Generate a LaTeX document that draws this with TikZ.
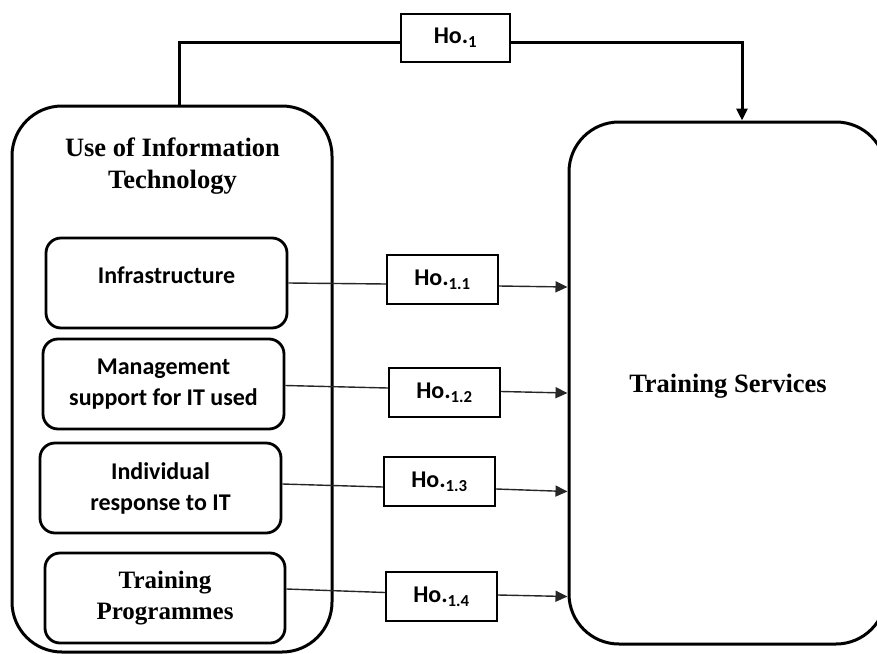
\documentclass[tikz,border=0pt]{standalone}
\usepackage{fontspec}
\newfontfamily\tnrfont{Liberation Serif}
\newfontfamily\calibfont{Carlito}
\usetikzlibrary{arrows.meta}
\tikzset{
  bigbox/.style={draw, line width=3pt, rounded corners=50pt},
  inbox/.style={draw, line width=2.8pt, rounded corners=15pt, minimum width=241pt, minimum height=90pt, align=center},
  hobox/.style={draw, line width=2.3pt, minimum width=111pt, minimum height=49pt, inner sep=0pt, font={\calibfont\bfseries\fontsize{24}{28}\selectfont}},
  sanslab/.style={align=center, inner sep=0pt, font={\calibfont\bfseries\fontsize{24}{31}\selectfont}},
  seriflab/.style={align=center, inner sep=0pt, font={\tnrfont\bfseries\fontsize{25}{31}\selectfont}},
  titlelab/.style={align=center, inner sep=0pt, font={\tnrfont\bfseries\fontsize{26.5}{32}\selectfont}},
  topline/.style={line width=3pt},
  sline/.style={line width=1.4pt, black!85},
  arr/.style={-{Triangle[length=12pt,width=11pt]}},
}
\begin{document}
\begin{tikzpicture}[x=1pt,y=-1pt]
\useasboundingbox (0,0) rectangle (877,653);
\clip (0,0) rectangle (877,653);
% big boxes
\node[bigbox, minimum width=320pt, minimum height=546pt] (L) at (172,379) {};
\node[bigbox, minimum width=317pt, minimum height=522pt] (R) at (727.5,383) {};
\node[titlelab] (RT) at (728,386) {Training Services};
\node[titlelab] (T) at (172.5,166) {Use of Information\\Technology};
% inner boxes
\node[inbox, minimum width=241pt] (I1) at (166.5,283) {};
\node[sanslab] (I1t) at (166.5,275) {Infrastructure};
\node[inbox, sanslab, inner sep=3pt, minimum width=241pt] (I2) at (163.5,384) {Management\\support for IT used};
\node[inbox, sanslab, inner sep=3pt, minimum width=241pt] (I3) at (160.5,488) {Individual\\response to IT};
\node[inbox, seriflab, inner sep=3pt, minimum width=240pt] (I4) at (165,598) {Training\\Programmes};
% hypothesis boxes
\node[hobox, minimum width=109pt, minimum height=48pt] (H0) at (455.5,38) {Ho.\textsubscript{1}};
\node[hobox] (H1) at (442.5,279.5) {Ho.\textsubscript{1.1}};
\node[hobox] (H2) at (444.5,392.5) {Ho.\textsubscript{1.2}};
\node[hobox] (H3) at (439.5,481.5) {Ho.\textsubscript{1.3}};
\node[hobox] (H4) at (441.5,596.5) {Ho.\textsubscript{1.4}};
% top connector
\draw[topline] ([xshift=7pt]L.north) |- (H0.west |- 0,42);
\draw[topline, arr] (H0.east |- 0,42) -| ([xshift=14.5pt]R.north);
% side connectors
\draw[sline] (I1.east |- 0,283) -- (H1.west |- 0,284);
\draw[sline, arr] (H1.east |- 0,286) -- (R.west |- 0,287);
\draw[sline] (I2.east |- 0,385.5) -- (H2.west |- 0,388);
\draw[sline, arr] (H2.east |- 0,391.5) -- (R.west |- 0,393);
\draw[sline] (I3.east |- 0,484) -- (H3.west |- 0,487);
\draw[sline, arr] (H3.east |- 0,489) -- (R.west |- 0,491.5);
\draw[sline] (I4.east |- 0,589) -- (H4.west |- 0,592.5);
\draw[sline, arr] (H4.east |- 0,595) -- (R.west |- 0,596.5);
\end{tikzpicture}
\end{document}
